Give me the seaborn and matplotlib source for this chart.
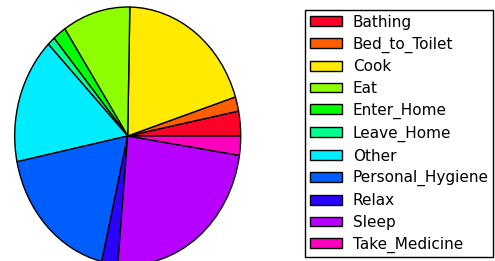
import numpy as np
import matplotlib
matplotlib.use("Agg")
import matplotlib.pyplot as plt
import seaborn as sns

# activity share of time (%)
ACTIVITIES = ["Bathing", "Bed_to_Toilet", "Cook", "Eat", "Enter_Home", "Leave_Home",
              "Other", "Personal_Hygiene", "Relax", "Sleep", "Take_Medicine"]
SHARES = [3.1, 1.8, 19.8, 9.7, 1.9, 1.1, 15.8, 18.1, 2.3, 24.0, 2.4]

sns.set_style("white")
plt.rcParams["font.family"] = ["DejaVu Sans"]
plt.rcParams["text.color"] = "black"

colors = matplotlib.colormaps["gist_rainbow"](np.linspace(0, 1, len(ACTIVITIES)))

W, H = 495, 261
fig = plt.figure(figsize=(W / 100, H / 100), dpi=100)
# pie drawn as an ellipse (no equal aspect), partly cut by the figure edge
ax = fig.add_axes([14.7 / W, -4 / H, 226 / W, 258 / H])
wedges, _ = ax.pie(SHARES, colors=colors, startangle=0, counterclock=True,
                   wedgeprops=dict(edgecolor="black", linewidth=1.0))
ax.set_aspect("auto")
ax.set_xlim(-1, 1)
ax.set_ylim(-1, 1)
ax.axis("off")

leg = fig.legend(wedges, ACTIVITIES, loc="upper left",
                 bbox_to_anchor=(305 / W, 1 - 10 / H), borderaxespad=0,
                 fontsize=11, frameon=True, fancybox=False, framealpha=1,
                 edgecolor="black", labelspacing=0.44, handlelength=2.1,
                 handleheight=0.6, handletextpad=0.72, borderpad=0.3)
leg.get_frame().set_linewidth(1.0)
for h in leg.legend_handles:
    h.set_edgecolor("black")
    h.set_linewidth(1.0)
for t in leg.get_texts():
    t.set_color("black")

fig.savefig("out.png", dpi=100, facecolor="white")
